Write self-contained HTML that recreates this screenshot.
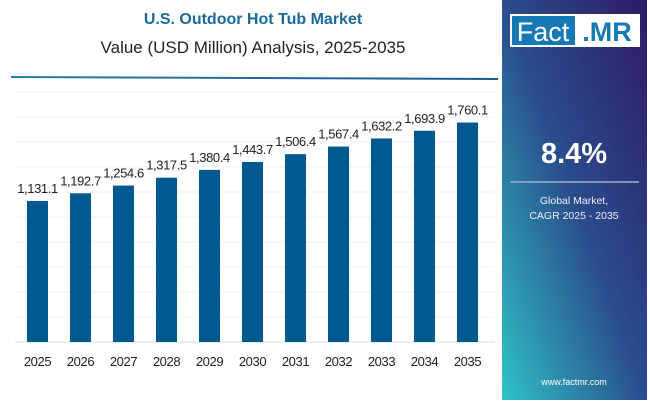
<!DOCTYPE html>
<html><head><style>
body{margin:0;width:650px;height:400px;overflow:hidden;background:#fff;font-family:"Liberation Sans",sans-serif;}
</style></head><body>
<svg width="650" height="400" xmlns="http://www.w3.org/2000/svg" font-family="Liberation Sans, sans-serif">
<defs>
<linearGradient id="g" x1="1" y1="0" x2="0" y2="1">
<stop offset="0" stop-color="#2f1a66"/>
<stop offset="0.5" stop-color="#2a4d8c"/>
<stop offset="1" stop-color="#2fc3c6"/>
</linearGradient>
<linearGradient id="ln" x1="0" x2="1"><stop offset="0" stop-color="#2a7bb0"/><stop offset="1" stop-color="#1a5a8a"/></linearGradient>
</defs>
<text x="253" y="24" text-anchor="middle" font-size="16" font-weight="bold" fill="#1d6a9a">U.S. Outdoor Hot Tub Market</text>
<text x="253" y="53" text-anchor="middle" font-size="17" fill="#222">Value (USD Million) Analysis, 2025-2035</text>
<line x1="11" y1="77" x2="498" y2="79" stroke="url(#ln)" stroke-width="2"/>
<g stroke="#f2f2f2" stroke-width="1">
<line x1="15" y1="92" x2="495" y2="92"/><line x1="15" y1="117" x2="495" y2="117"/>
<line x1="15" y1="142" x2="495" y2="142"/><line x1="15" y1="167" x2="495" y2="167"/>
<line x1="15" y1="192" x2="495" y2="192"/><line x1="15" y1="217" x2="495" y2="217"/>
<line x1="15" y1="242" x2="495" y2="242"/><line x1="15" y1="267" x2="495" y2="267"/>
<line x1="15" y1="292" x2="495" y2="292"/><line x1="15" y1="317" x2="495" y2="317"/>
</g>
<line x1="15" y1="342" x2="495" y2="342" stroke="#ddd"/>
<g fill="#005a8f" id="bars"></g>
<g id="lbl" font-size="13" fill="#222" text-anchor="middle" letter-spacing="-0.4"></g>
<rect x="502" y="0" width="145" height="400" fill="url(#g)"/>
<rect x="510" y="14" width="130" height="33" fill="#fff"/>
<rect x="512" y="16" width="63" height="29" fill="#1479b5"/>
<text x="543" y="41" text-anchor="middle" font-size="27" fill="#fff">Fact</text>
<text x="607" y="41" text-anchor="middle" font-size="27" font-weight="bold" fill="#1479b5">.MR</text>
<text x="574" y="163" text-anchor="middle" font-size="29" font-weight="bold" fill="#fff">8.4%</text>
<line x1="510" y1="182" x2="639" y2="182" stroke="#9ab0d0" stroke-width="1.5"/>
<text x="574" y="204" text-anchor="middle" font-size="10.5" fill="#eef">Global Market,</text>
<text x="574" y="219" text-anchor="middle" font-size="10.5" fill="#eef">CAGR 2025 - 2035</text>
<text x="574" y="385" text-anchor="middle" font-size="9" fill="#fff">www.factmr.com</text>
<script>
var v=[1131.1,1192.7,1254.6,1317.5,1380.4,1443.7,1506.4,1567.4,1632.2,1693.9,1760.1];
var b=document.getElementById('bars'),l=document.getElementById('lbl'),ns="http://www.w3.org/2000/svg";
v.forEach(function(x,i){var c=37.5+43*i,h=x*0.1247,t=342-h;
var r=document.createElementNS(ns,'rect');r.setAttribute('x',c-10.5);r.setAttribute('y',t);r.setAttribute('width',21);r.setAttribute('height',h);b.appendChild(r);
var a=document.createElementNS(ns,'text');a.setAttribute('x',c);a.setAttribute('y',t-8);a.textContent=x.toLocaleString('en-US',{minimumFractionDigits:1});l.appendChild(a);
var y=document.createElementNS(ns,'text');y.setAttribute('x',c);y.setAttribute('y',366);y.textContent=2025+i;l.appendChild(y);});
</script>
</svg>
</body></html>
